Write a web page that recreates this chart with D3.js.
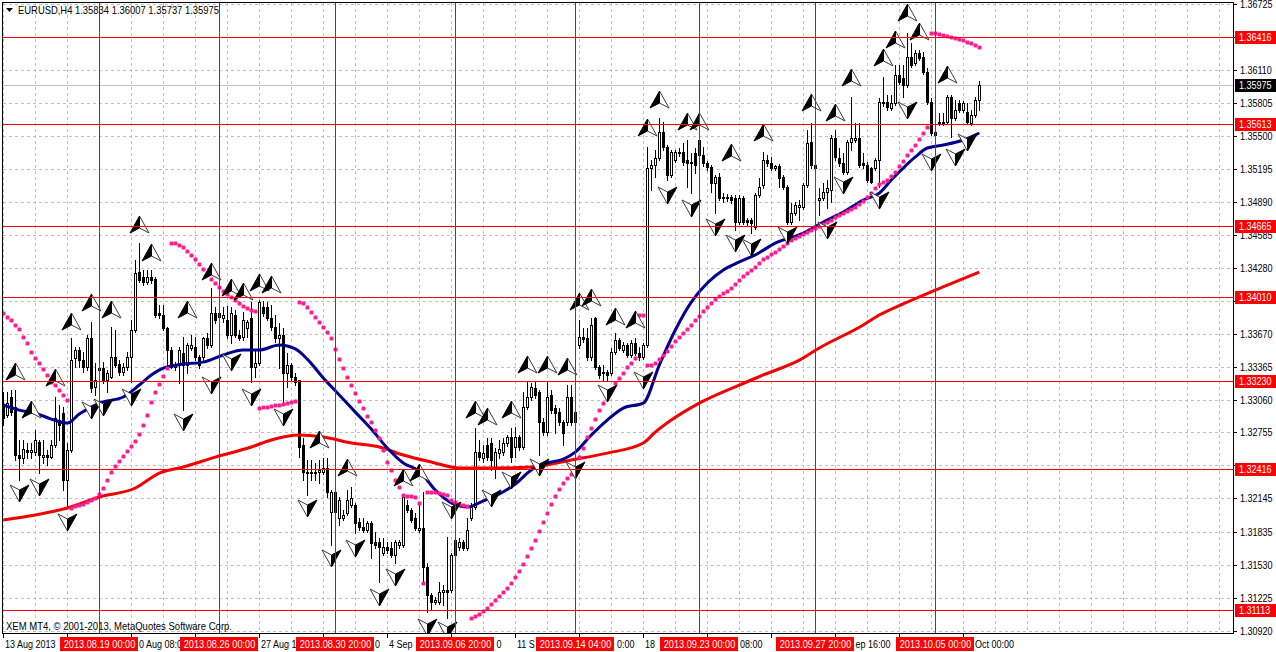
<!DOCTYPE html>
<html><head><meta charset="utf-8">
<script src="https://cdnjs.cloudflare.com/ajax/libs/d3/7.8.5/d3.min.js"></script>
<style>
html,body{margin:0;padding:0;background:#fff;}
svg{display:block;}
text{font-family:"Liberation Sans",Arial,sans-serif;font-size:10px;}
</style></head><body>
<svg id="chart" width="1276" height="652"></svg>
<script>
// ---------------- DATA ----------------
const symbolTitle = "EURUSD,H4";
const headerValues = ["1.35834", "1.36007", "1.35737", "1.35975"];
const copyright = "XEM MT4, \u00A9 2001-2013, MetaQuotes Software Corp.";
const bidPrice = 1.35975;

// OHLC per H4 bar (bar 0 = 13 Aug 2013 00:00)
const ohlc = [
[1.33009,1.33129,1.32824,1.32888],[1.32916,1.33129,1.32897,1.33027],[1.33083,1.33148,1.32916,1.32943],[1.32990,1.33148,1.32500,1.32546],
[1.32546,1.32685,1.32315,1.32518],[1.32518,1.32685,1.32472,1.32602],[1.32592,1.32657,1.32518,1.32573],[1.32573,1.32657,1.32518,1.32592],
[1.32573,1.32777,1.32546,1.32685],[1.32666,1.32685,1.32379,1.32546],[1.32527,1.32685,1.32472,1.32546],[1.32546,1.32592,1.32454,1.32527],
[1.32527,1.32685,1.32518,1.32639],[1.32639,1.33083,1.32620,1.32888],[1.32870,1.33009,1.32685,1.32824],[1.32934,1.32990,1.32222,1.32315],
[1.32315,1.32657,1.32065,1.32592],[1.32592,1.33629,1.32573,1.33425],[1.33444,1.33546,1.33360,1.33518],[1.33518,1.33546,1.33360,1.33425],
[1.33425,1.33499,1.33314,1.33360],[1.33360,1.33657,1.33333,1.33629],[1.33629,1.33777,1.33129,1.33166],[1.33175,1.33397,1.33102,1.33240],
[1.33333,1.33406,1.33287,1.33351],[1.33351,1.33406,1.33212,1.33240],[1.33240,1.33333,1.33129,1.33305],[1.33268,1.33731,1.33259,1.33453],
[1.33453,1.33703,1.33360,1.33379],[1.33388,1.33425,1.33287,1.33314],[1.33314,1.33397,1.33287,1.33360],[1.33360,1.33499,1.33333,1.33453],
[1.33453,1.33796,1.33221,1.33703],[1.33703,1.34351,1.33684,1.34231],[1.34240,1.34508,1.34147,1.34166],[1.34194,1.34259,1.34120,1.34147],
[1.34147,1.34259,1.34129,1.34194],[1.34194,1.34259,1.34138,1.34166],[1.34175,1.34194,1.33823,1.33842],[1.33860,1.33935,1.33814,1.33842],
[1.33842,1.33935,1.33703,1.33722],[1.33722,1.33731,1.33360,1.33518],[1.33518,1.33546,1.33351,1.33360],[1.33360,1.33406,1.33333,1.33379],
[1.33379,1.33546,1.33212,1.33518],[1.33490,1.33638,1.32962,1.33379],[1.33379,1.33583,1.33305,1.33565],[1.33537,1.33657,1.33518,1.33565],
[1.33546,1.33638,1.33425,1.33453],[1.33453,1.33472,1.33351,1.33379],[1.33453,1.33638,1.33425,1.33629],[1.33629,1.33675,1.33537,1.33565],
[1.33565,1.34092,1.33546,1.33860],[1.33860,1.33914,1.33768,1.33796],[1.33823,1.33923,1.33796,1.33860],[1.33814,1.33914,1.33777,1.33842],
[1.33796,1.33923,1.33629,1.33657],[1.33657,1.33914,1.33583,1.33860],[1.33842,1.33888,1.33638,1.33657],[1.33657,1.33703,1.33611,1.33629],
[1.33638,1.33869,1.33611,1.33796],[1.33722,1.33796,1.33638,1.33777],[1.33814,1.33962,1.33221,1.33360],[1.33360,1.33518,1.33268,1.33397],
[1.33397,1.33981,1.33379,1.33962],[1.33914,1.33972,1.33832,1.33860],[1.33914,1.33962,1.33796,1.33814],[1.33814,1.33935,1.33703,1.33731],
[1.33731,1.33842,1.33592,1.33629],[1.33629,1.33768,1.33351,1.33657],[1.33657,1.33722,1.33036,1.33305],[1.33305,1.33490,1.33175,1.33379],
[1.33379,1.33397,1.33240,1.33268],[1.33268,1.33305,1.33194,1.33221],[1.33240,1.33240,1.32527,1.32620],[1.32639,1.32703,1.32315,1.32388],
[1.32388,1.32500,1.32176,1.32379],[1.32379,1.32500,1.32315,1.32388],[1.32388,1.32472,1.32315,1.32383],[1.32388,1.32500,1.32287,1.32407],
[1.32388,1.32518,1.32370,1.32426],[1.32426,1.32518,1.32157,1.32203],[1.32018,1.32222,1.31713,1.32203],[1.32203,1.32222,1.31991,1.32018],
[1.31963,1.32157,1.31898,1.32130],[1.31963,1.32037,1.31944,1.31991],[1.32009,1.32222,1.31991,1.32130],[1.32084,1.32250,1.32065,1.32148],
[1.32084,1.32102,1.31824,1.31916],[1.31925,1.31963,1.31852,1.31879],[1.31879,1.31963,1.31833,1.31852],[1.31852,1.31935,1.31833,1.31916],
[1.31916,1.31935,1.31593,1.31731],[1.31740,1.31833,1.31685,1.31713],[1.31740,1.31778,1.31370,1.31694],[1.31639,1.31778,1.31621,1.31694],
[1.31694,1.31740,1.31639,1.31667],[1.31685,1.31740,1.31602,1.31621],[1.31621,1.31759,1.31546,1.31740],[1.31713,1.31759,1.31685,1.31740],
[1.31713,1.32176,1.31694,1.32157],[1.32084,1.32130,1.32018,1.32037],[1.32037,1.32056,1.31925,1.31944],[1.31963,1.32009,1.31852,1.31870],
[1.31852,1.32102,1.31833,1.31870],[1.31870,1.32203,1.31361,1.31509],[1.31509,1.31546,1.31092,1.31250],[1.31250,1.31268,1.31111,1.31185],
[1.31185,1.31231,1.31167,1.31204],[1.31185,1.31370,1.31167,1.31277],[1.31277,1.31343,1.31158,1.31296],[1.31296,1.31787,1.31037,1.31277],
[1.31296,1.31639,1.31277,1.31621],[1.31621,1.31833,1.31602,1.31759],[1.31694,1.31778,1.31667,1.31740],[1.31740,1.31759,1.31667,1.31685],
[1.31685,1.31963,1.31667,1.31852],[1.31963,1.32102,1.31944,1.32065],[1.32065,1.32796,1.32046,1.32573],[1.32573,1.32685,1.32500,1.32527],
[1.32518,1.32639,1.32481,1.32564],[1.32639,1.32703,1.32500,1.32527],[1.32657,1.32703,1.32407,1.32500],[1.32435,1.32611,1.32333,1.32573],
[1.32564,1.32685,1.32518,1.32602],[1.32573,1.32703,1.32546,1.32657],[1.32657,1.32731,1.32629,1.32712],[1.32712,1.32796,1.32481,1.32527],
[1.32620,1.32805,1.32527,1.32712],[1.32712,1.32731,1.32592,1.32620],[1.32620,1.33129,1.32602,1.32990],[1.32990,1.33221,1.32972,1.33083],
[1.33083,1.33212,1.33055,1.33175],[1.33166,1.33221,1.33074,1.33102],[1.33129,1.33148,1.32546,1.32851],[1.32851,1.32888,1.32731,1.32758],
[1.32758,1.33221,1.32731,1.33083],[1.33102,1.33148,1.32934,1.32962],[1.32981,1.33009,1.32749,1.32934],[1.32943,1.32981,1.32824,1.32851],
[1.32851,1.32870,1.32639,1.32749],[1.32851,1.33194,1.32824,1.33083],[1.33083,1.33194,1.32824,1.32851],[1.32851,1.33074,1.32824,1.32943],
[1.33565,1.33796,1.33537,1.33638],[1.33638,1.33722,1.33592,1.33620],[1.33629,1.33722,1.33425,1.33453],[1.33453,1.33814,1.33425,1.33750],
[1.33814,1.33823,1.33342,1.33360],[1.33360,1.33379,1.33259,1.33287],[1.33314,1.33379,1.33240,1.33305],[1.33314,1.33333,1.33240,1.33287],
[1.33305,1.33537,1.33287,1.33499],[1.33499,1.33675,1.33481,1.33611],[1.33611,1.33629,1.33518,1.33537],[1.33518,1.33592,1.33499,1.33565],
[1.33565,1.33583,1.33453,1.33472],[1.33472,1.33611,1.33453,1.33583],[1.33583,1.33629,1.33472,1.33490],[1.33490,1.33546,1.33425,1.33453],
[1.33453,1.33583,1.33434,1.33565],[1.33565,1.35398,1.33546,1.35203],[1.35203,1.35277,1.34999,1.35231],[1.35231,1.35370,1.35119,1.35296],
[1.35296,1.35666,1.35277,1.35536],[1.35536,1.35628,1.35370,1.35398],[1.35398,1.35416,1.35092,1.35138],[1.35138,1.35370,1.35119,1.35351],
[1.35277,1.35370,1.35258,1.35351],[1.35351,1.35388,1.35314,1.35342],[1.35351,1.35434,1.35231,1.35258],[1.35277,1.35462,1.35027,1.35249],
[1.35258,1.35342,1.34971,1.35249],[1.35342,1.35388,1.35156,1.35231],[1.35462,1.35480,1.35305,1.35324],[1.35324,1.35398,1.35221,1.35249],
[1.35249,1.35268,1.35184,1.35212],[1.35212,1.35231,1.34980,1.35064],[1.35064,1.35138,1.34786,1.35119],[1.35119,1.35156,1.34907,1.34925],
[1.34934,1.34971,1.34888,1.34925],[1.34925,1.34962,1.34898,1.34934],[1.34934,1.34953,1.34879,1.34907],[1.34925,1.34953,1.34629,1.34703],
[1.34703,1.34953,1.34685,1.34925],[1.34925,1.34943,1.34685,1.34703],[1.34722,1.34740,1.34676,1.34703],[1.34722,1.34740,1.34601,1.34694],
[1.34657,1.34971,1.34638,1.34953],[1.34953,1.35110,1.34934,1.35027],[1.35046,1.35351,1.35018,1.35277],[1.35277,1.35324,1.35221,1.35249],
[1.35249,1.35305,1.35184,1.35203],[1.35203,1.35231,1.35184,1.35221],[1.35221,1.35240,1.35027,1.35110],[1.35119,1.35138,1.35009,1.35027],
[1.35027,1.35046,1.34685,1.34703],[1.34703,1.34879,1.34685,1.34786],[1.34786,1.34888,1.34768,1.34861],[1.34842,1.34907,1.34722,1.34861],
[1.34842,1.35064,1.34823,1.35046],[1.35046,1.35555,1.35027,1.35434],[1.35443,1.35619,1.35203,1.35231],[1.35231,1.35258,1.35110,1.35203],
[1.34907,1.35018,1.34768,1.34925],[1.34925,1.35064,1.34907,1.34980],[1.34980,1.35092,1.34833,1.35018],[1.34999,1.35509,1.34888,1.35480],
[1.35480,1.35555,1.35277,1.35305],[1.35296,1.35388,1.35221,1.35249],[1.35249,1.35342,1.35147,1.35165],[1.35165,1.35462,1.35147,1.35443],
[1.35443,1.35860,1.35370,1.35480],[1.35462,1.35619,1.35443,1.35480],[1.35480,1.35619,1.35212,1.35231],[1.35249,1.35342,1.35203,1.35231],
[1.35231,1.35258,1.35073,1.35092],[1.35203,1.35212,1.35064,1.35073],[1.35203,1.35296,1.35184,1.35277],[1.35277,1.35851,1.35027,1.35813],
[1.35804,1.36045,1.35777,1.35813],[1.35813,1.35879,1.35740,1.35767],[1.35758,1.35879,1.35740,1.35804],[1.35804,1.36156,1.35786,1.36064],
[1.36064,1.36156,1.35980,1.35999],[1.36036,1.36156,1.35860,1.35971],[1.35971,1.36452,1.35953,1.36230],[1.36230,1.36360,1.36138,1.36156],
[1.36175,1.36295,1.36156,1.36267],[1.36267,1.36295,1.36203,1.36221],[1.36230,1.36276,1.36073,1.36091],[1.36091,1.36128,1.35795,1.35813],
[1.35813,1.35851,1.35509,1.35527],[1.35509,1.35647,1.35490,1.35536],[1.35628,1.35712,1.35601,1.35610],[1.35619,1.35712,1.35601,1.35628],
[1.35628,1.35879,1.35610,1.35860],[1.35860,1.35879,1.35490,1.35666],[1.35666,1.35832,1.35647,1.35740],[1.35804,1.35832,1.35721,1.35740],
[1.35740,1.35823,1.35721,1.35804],[1.35721,1.35804,1.35610,1.35628],[1.35619,1.35740,1.35601,1.35693],[1.35693,1.35860,1.35675,1.35832],
[1.35834,1.36007,1.35737,1.35975]
];

// Moving averages, sampled [bar, price]
const blueMA = [[0,1.33009],[4,1.32962],[8,1.32934],[12,1.32879],[16,1.32842],[19,1.32925],[24,1.33027],[30,1.33083],[34,1.33194],[37,1.33287],
[40,1.33351],[45,1.33388],[50,1.33406],[55,1.33472],[60,1.33518],[64,1.33518],[69,1.33565],[73,1.33528],[76,1.33434],[80,1.33259],
[84,1.33102],[88,1.32943],[92,1.32786],[96,1.32611],[100,1.32472],[104,1.32398],[108,1.32222],[112,1.32102],[116,1.32065],[120,1.32121],
[124,1.32185],[128,1.32278],[132,1.32407],[136,1.32472],[140,1.32509],[143,1.32573],[147,1.32731],[151,1.32870],[155,1.32981],[160,1.33027],
[164,1.33379],[168,1.33703],[172,1.33962],[176,1.34138],[180,1.34259],[184,1.34333],[188,1.34398],[193,1.34508],[200,1.34601],[205,1.34703],
[210,1.34795],[215,1.34907],[219,1.34971],[222,1.35092],[225,1.35203],[228,1.35305],[231,1.35388],[235,1.35416],[240,1.35462],[244,1.35527]];
const redMA = [[0,1.31944],[8,1.31991],[16,1.32056],[24,1.32157],[33,1.32241],[39,1.32379],[45,1.32435],[53,1.32527],[62,1.32620],[67,1.32685],
[74,1.32731],[80,1.32712],[87,1.32657],[94,1.32620],[100,1.32546],[107,1.32481],[114,1.32426],[123,1.32426],[132,1.32435],[142,1.32500],
[151,1.32564],[160,1.32657],[163,1.32758],[167,1.32870],[174,1.33027],[184,1.33194],[190,1.33287],[199,1.33425],[204,1.33537],[215,1.33750],
[219,1.33842],[226,1.33962],[233,1.34073],[244,1.34240]];

// Parabolic SAR dots: [first bar, values...]
const sarSegments = [
[0,[1.33860,1.33823,1.33796,1.33750,1.33712,1.33638,1.33583,1.33499,1.33444,1.33397,1.33342,1.33287,1.33221,1.33194,1.33148,1.33102,1.33055]],
[17,[1.32056,1.32074,1.32084,1.32093,1.32111,1.32130,1.32148,1.32185,1.32241,1.32315,1.32388,1.32444,1.32491,1.32536,1.32583,1.32629,1.32676,1.32740,1.32824,1.32916,1.33036,1.33129,1.33203,1.33277,1.33351]],
[42,[1.34508,1.34508,1.34489,1.34471,1.34435,1.34398,1.34361,1.34314,1.34268,1.34222,1.34175,1.34138,1.34101,1.34064,1.34036,1.34008,1.33981,1.33953,1.33925,1.33907,1.33888,1.33879]],
[64,[1.32981,1.32990,1.32990,1.32999,1.33009,1.33009,1.33018,1.33027,1.33036,1.33046]],
[74,[1.33962,1.33953,1.33916,1.33869,1.33823,1.33777,1.33731,1.33684,1.33629,1.33528,1.33434,1.33351,1.33268,1.33194,1.33120,1.33046,1.32981,1.32906,1.32851,1.32777,1.32703,1.32592,1.32481,1.32407,1.32315,1.32250]],
[100,[1.32176,1.32167,1.32167,1.32157,1.32102]],
[105,[1.31361]],
[106,[1.32203,1.32203,1.32203,1.32194,1.32185,1.32176,1.32130,1.32111,1.32093,1.32084,1.32074]],
[117,[1.31037,1.31055,1.31074,1.31102,1.31129,1.31167,1.31204,1.31241,1.31277,1.31314,1.31361,1.31417,1.31473,1.31537,1.31611,1.31685,1.31759,1.31843,1.31925,1.32009,1.32093,1.32167,1.32232,1.32287,1.32333,1.32370,1.32407,1.32527,1.32611,1.32712,1.32796,1.32879,1.32962,1.33027,1.33083,1.33148,1.33212,1.33259,1.33305,1.33360,1.33397,1.33444]],
[159,[1.33842,1.33842]],
[161,[1.33379,1.33379,1.33397,1.33434,1.33472,1.33509,1.33555,1.33602,1.33638,1.33675,1.33712,1.33750,1.33796,1.33832,1.33879,1.33916,1.33953,1.33990,1.34018,1.34046,1.34064,1.34092,1.34129,
1.34166,1.34203,1.34231,1.34259,1.34286,1.34323,1.34361,1.34379,1.34407,1.34425,1.34453,1.34481,1.34508,1.34536,1.34555,1.34574,1.34592,1.34610,1.34629,1.34647,1.34666,1.34685,1.34703,1.34722,1.34749,1.34768,1.34786,1.34805,1.34823,1.34842,1.34870,1.34898,1.34934,1.34971,1.35018,1.35055,1.35073,1.35092,1.35129,1.35165,1.35221,1.35268,1.35324,1.35370,1.35416,1.35471,1.35527,1.35583]],
[232,[1.36452,1.36452,1.36443,1.36434,1.36425,1.36415,1.36406,1.36397,1.36388,1.36369,1.36360,1.36342,1.36323]]
];

// Arrow markers [bar, price]
const arrowsUp = [[3,1.33314],[7,1.32962],[13,1.33259],[17,1.33777],[22,1.33953],[27,1.33888],[34,1.34676],[37,1.34416],[46,1.33888],[52,1.34240],
[57,1.34092],[60,1.34055],[64,1.34138],[67,1.34120],[79,1.32685],[86,1.32426],[100,1.32333],[104,1.32379],[118,1.32962],[121,1.32897],
[127,1.32962],[131,1.33379],[136,1.33379],[141,1.33360],[144,1.33962],[147,1.33999],[153,1.33823],[158,1.33796],[161,1.35573],[164,1.35832],
[171,1.35628],[174,1.35628],[182,1.35342],[190,1.35527],[202,1.35804],[208,1.35712],[212,1.36036],[220,1.36221],[223,1.36388],[226,1.36637],
[229,1.36461],[236,1.36064]];
const arrowsDown = [[4,1.32194],[9,1.32250],[16,1.31925],[22,1.32962],[25,1.32990],[32,1.33083],[45,1.32851],[52,1.33194],[57,1.33406],[62,1.33083],
[70,1.32897],[76,1.32056],[82,1.31593],[88,1.31685],[94,1.31231],[98,1.31417],[106,1.30954],[111,1.30926],[112,1.32037],[122,1.32148],
[127,1.32315],[134,1.32435],[143,1.32407],[151,1.33120],[160,1.33240],[166,1.34953],[172,1.34833],[178,1.34657],[183,1.34508],[187,1.34471],
[196,1.34583],[206,1.34629],[210,1.35046],[219,1.34907],[226,1.35740],[232,1.35258],[238,1.35305],[241,1.35443]];

// Horizontal price levels and vertical time lines
const levels = [1.36416, 1.35613, 1.34665, 1.34010, 1.33230, 1.32416, 1.31113];
const vLines = [[24,"2013.08.19 00:00"],[54,"2013.08.26 00:00"],[83,"2013.08.30 20:00"],[113,"2013.09.06 20:00"],
[143,"2013.09.14 04:00"],[174,"2013.09.23 00:00"],[203,"2013.09.27 20:00"],[233,"2013.10.05 00:00"]];

// Axis ticks
const priceTicks = [1.36725,1.36415,1.36110,1.35805,1.35500,1.35195,1.34890,1.34585,1.34280,1.33975,1.33670,1.33365,1.33060,1.32755,1.32450,1.32145,1.31835,1.31530,1.31225,1.30920];
const timeLabels = [[0,"13 Aug 2013"],[16,"15 Aug 16:00"],[32,"20 Aug 08:00"],[48,"23 Aug 00:00"],[64,"27 Aug 16:00"],[80,"30 Aug 08:00"],
[96,"4 Sep 00:00"],[112,"6 Sep 16:00"],[128,"11 Sep 08:00"],[144,"16 Sep 00:00"],[160,"18 Sep 16:00"],[176,"23 Sep 08:00"],
[192,"26 Sep 00:00"],[208,"30 Sep 16:00"],[224,"3 Oct 08:00"],[240,"8 Oct 00:00"]];
const gridEveryBars = 8;

// ---------------- DRAW ----------------
const svg = d3.select("#chart");
const PL = 3, PR = 1233, PT = 3, PB = 633;
const x = d3.scaleLinear().domain([0, 300]).range([3.3, 1203.3]);
const y = d3.scaleLinear().domain([1.30920, 1.36110]).range([630.7, 70]);
const px = v => Math.round(v) + 0.5;
const fmt = d3.format(".5f");

svg.append("rect").attr("width",1276).attr("height",652).attr("fill","#fff");
svg.append("defs").append("clipPath").attr("id","clip")
  .append("rect").attr("x",PL).attr("y",PT).attr("width",PR-PL).attr("height",PB-PT);

const plot = svg.append("g").attr("clip-path","url(#clip)");

// grid
const grid = plot.append("g").attr("shape-rendering","crispEdges").attr("stroke","#c0c0c0").attr("stroke-dasharray","3,3");
priceTicks.forEach(v => grid.append("line").attr("x1",PL).attr("x2",PR).attr("y1",px(y(v))).attr("y2",px(y(v))));
d3.range(0, 310, gridEveryBars).forEach(b => grid.append("line").attr("x1",px(x(b))).attr("x2",px(x(b))).attr("y1",PT).attr("y2",PB));

// bid line
plot.append("line").attr("x1",PL).attr("x2",PR).attr("y1",px(y(bidPrice))).attr("y2",px(y(bidPrice)))
  .attr("stroke","#c0c0c0").attr("shape-rendering","crispEdges");

// candles
const cg = plot.append("g").attr("shape-rendering","crispEdges");
ohlc.forEach((d, i) => {
  const [o, h, l, c] = d;
  const cx = Math.round(x(i));
  cg.append("line").attr("x1",cx+0.5).attr("x2",cx+0.5).attr("y1",Math.round(y(h))).attr("y2",Math.round(y(l))+1).attr("stroke","#000");
  const top = Math.round(y(Math.max(o,c))), bot = Math.round(y(Math.min(o,c)));
  cg.append("rect").attr("x",cx-0.5).attr("y",top+0.5).attr("width",2).attr("height",Math.max(0,bot-top))
    .attr("fill", c >= o ? "#fff" : "#000").attr("stroke","#000");
});

// moving averages
const line = d3.line().x(d => x(d[0])).y(d => y(d[1])).curve(d3.curveMonotoneX);
plot.append("path").attr("d",line(redMA)).attr("fill","none").attr("stroke","#f00000").attr("stroke-width",3).attr("stroke-linejoin","round");
plot.append("path").attr("d",line(blueMA)).attr("fill","none").attr("stroke","#00008c").attr("stroke-width",3).attr("stroke-linejoin","round");

// SAR dots
const sg = plot.append("g").attr("fill","#ff1e90");
sarSegments.forEach(([start, vals]) => vals.forEach((v, k) => {
  sg.append("rect").attr("x",Math.round(x(start+k))-1.5).attr("y",Math.round(y(v))-1.5).attr("width",4).attr("height",4).attr("rx",1.2);
}));

// arrows
const ag = plot.append("g");
arrowsUp.forEach(([b, v]) => {
  const g = ag.append("g").attr("transform",`translate(${Math.round(x(b))+0.5},${Math.round(y(v))})`);
  g.append("path").attr("d","M0,-9L9.5,8L0,3Z").attr("fill","#fff").attr("stroke","#3a3a3a").attr("stroke-width",1);
  g.append("path").attr("d","M0,-9L-9.5,8L0,3Z").attr("fill","#000").attr("stroke","#000").attr("stroke-width",1);
});
arrowsDown.forEach(([b, v]) => {
  const g = ag.append("g").attr("transform",`translate(${Math.round(x(b))+0.5},${Math.round(y(v))})`);
  g.append("path").attr("d","M0,9L-9.5,-8L0,-3Z").attr("fill","#fff").attr("stroke","#3a3a3a").attr("stroke-width",1);
  g.append("path").attr("d","M0,9L9.5,-8L0,-3Z").attr("fill","#000").attr("stroke","#000").attr("stroke-width",1);
});

// red level lines and vertical lines
const rg = plot.append("g").attr("stroke","#ff0000").attr("shape-rendering","crispEdges");
levels.forEach(v => rg.append("line").attr("x1",PL).attr("x2",PR).attr("y1",px(y(v))).attr("y2",px(y(v))));
vLines.forEach(([b]) => rg.append("line").attr("x1",px(x(b))).attr("x2",px(x(b))).attr("y1",PT).attr("y2",PB));

// frame
svg.append("rect").attr("x",2.5).attr("y",2.5).attr("width",1231).attr("height",631)
  .attr("fill","none").attr("stroke","#000").attr("shape-rendering","crispEdges");

function squeeze(sel, f) {
  sel.each(function() { const l = this.getComputedTextLength(); d3.select(this).attr("textLength", l*f).attr("lengthAdjust","spacingAndGlyphs"); });
}

// right axis
const ra = svg.append("g");
const levelYs = levels.map(v => y(v)).concat([y(bidPrice)]);
priceTicks.forEach(v => {
  const yy = px(y(v));
  ra.append("line").attr("x1",1233).attr("x2",1237).attr("y1",yy).attr("y2",yy).attr("stroke","#000").attr("shape-rendering","crispEdges");
  if (levelYs.some(ly => Math.abs(ly - y(v)) < 5)) return;
  ra.append("text").attr("x",1240).attr("y",yy+3.5).attr("fill","#000").text(fmt(v)).call(squeeze, 0.9);
});
levels.forEach(v => {
  const yy = Math.round(y(v));
  ra.append("rect").attr("x",1235).attr("y",yy-6).attr("width",41).attr("height",13).attr("fill","#ff0000");
  ra.append("text").attr("x",1239).attr("y",yy+4).attr("fill","#fff").text(fmt(v)).call(squeeze, 0.9);
});
{
  const yy = Math.round(y(bidPrice));
  ra.append("rect").attr("x",1235).attr("y",yy-6).attr("width",41).attr("height",13).attr("fill","#000");
  ra.append("text").attr("x",1239).attr("y",yy+4).attr("fill","#fff").text(fmt(bidPrice)).call(squeeze, 0.9);
}

// bottom axis: regular labels show only the part not covered by the red vertical-line boxes
const ba = svg.append("g");
const boxes = vLines.map(([b]) => { const xx = Math.round(x(b)); return [xx - 39, xx + 39]; });
const F = 0.9;
timeLabels.forEach(([b, t]) => {
  const xx = px(x(b));
  ba.append("line").attr("x1",xx).attr("x2",xx).attr("y1",633).attr("y2",638).attr("stroke","#000").attr("shape-rendering","crispEdges");
  const tmp = ba.append("text").attr("x",0).attr("y",648).text(t);
  const node = tmp.node();
  const cum = [0];
  for (let k = 0; k < t.length; k++) cum.push(node.getSubStringLength(0, k + 1) * F);
  tmp.remove();
  const x0 = xx + 1.5;
  const vis = t.split("").map((ch, k) => {
    const mid = x0 + (cum[k] + cum[k + 1]) / 2;
    return !boxes.some(([l, r]) => mid > l - 1 && mid < r + 1);
  });
  let best = [0, 0], s = -1;
  for (let k = 0; k <= t.length; k++) {
    if (k < t.length && vis[k]) { if (s < 0) s = k; }
    else if (s >= 0) { if (k - s > best[1] - best[0]) best = [s, k]; s = -1; }
  }
  let [a, e] = best;
  while (a < e && t[a] === " ") a++;
  while (e > a && t[e - 1] === " ") e--;
  if (e > a) {
    let xs = x0 + cum[a];
    const w = cum[e] - cum[a];
    boxes.forEach(([l, r]) => { if (xs < r + 1 && xs + w > r) xs = Math.max(xs, r + 1); });
    ba.append("text").attr("x", xs).attr("y", 648).attr("fill", "#000").text(t.slice(a, e))
      .attr("textLength", w).attr("lengthAdjust", "spacingAndGlyphs");
  }
});
vLines.forEach(([b, t]) => {
  const xx = Math.round(x(b));
  ba.append("rect").attr("x",xx-39).attr("y",637).attr("width",78).attr("height",14).attr("fill","#ff0000");
  ba.append("text").attr("x",xx+0.5).attr("y",648).attr("text-anchor","middle").attr("fill","#fff").text(t).call(squeeze, 0.92);
});

// header
svg.append("path").attr("d","M6,8L13,8L9.5,12Z").attr("fill","#000");
svg.append("text").attr("x",18).attr("y",14).attr("fill","#000").style("font-size","11px")
  .text(symbolTitle + "  " + headerValues.join(" ")).attr("textLength",201).attr("lengthAdjust","spacingAndGlyphs");

// copyright
svg.append("text").attr("x",6).attr("y",630).attr("fill","#000").style("font-size","11px")
  .text(copyright).attr("textLength",226).attr("lengthAdjust","spacingAndGlyphs");
</script>
</body></html>
